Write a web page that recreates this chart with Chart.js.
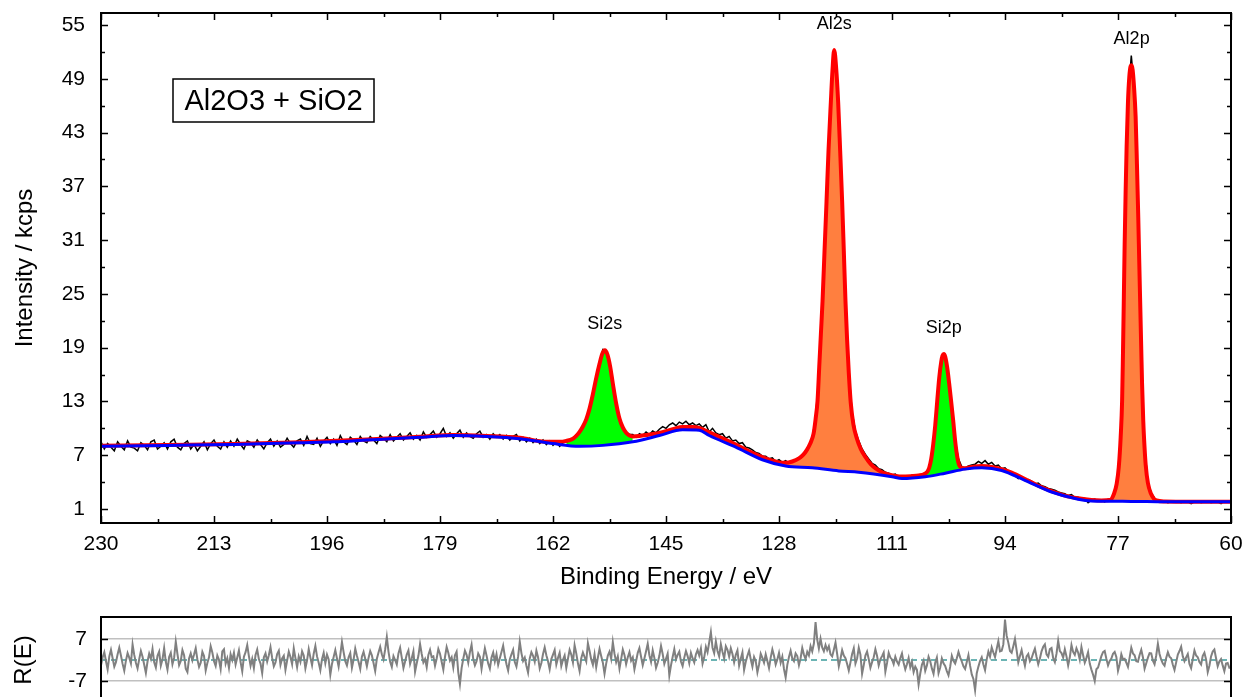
<!DOCTYPE html>
<html>
<head>
<meta charset="utf-8">
<script src="https://cdn.jsdelivr.net/npm/chart.js@4.4.1/dist/chart.umd.min.js"></script>
<style>
  html, body { margin: 0; padding: 0; overflow: hidden; background: #fff; }
  #main { position: absolute; left: 0; top: 0; }
  #resid { position: absolute; left: 0; top: 600px; }
</style>
</head>
<body>
<canvas id="main" width="1245" height="600"></canvas>
<canvas id="resid" width="1245" height="120"></canvas>
<script>
const FONT = "'Liberation Sans', Arial, sans-serif";

// axis ticks
const xTicks = [230, 213, 196, 179, 162, 145, 128, 111, 94, 77, 60];
const yTicks = [1, 7, 13, 19, 25, 31, 37, 43, 49, 55];
const residTicks = [-7, 7];

// measured spectrum (kcps), 0.5 eV steps from 230 eV down to 60 eV
const scanStart = 230;
const scanStep = 0.5;
const counts = [
  8.5, 7.7, 8.3, 7.9, 7.5, 8.5, 8.0, 7.6, 8.6, 7.9, 7.8, 7.5, 8.4, 8.1, 7.6, 8.5, 8.7, 7.7, 8.0, 8.4,
  7.7, 8.5, 8.8, 7.9, 7.6, 8.3, 8.6, 7.7, 8.2, 7.5, 8.0, 8.5, 7.6, 8.3, 8.7, 8.0, 7.7, 8.5, 7.9, 8.6,
  8.0, 8.8, 8.2, 7.7, 8.6, 8.4, 7.9, 8.7, 8.2, 7.7, 8.4, 8.8, 8.0, 8.6, 7.9, 8.2, 8.9, 8.3, 7.9, 8.6,
  8.8, 8.1, 9.1, 8.3, 8.2, 8.9, 8.0, 8.6, 9.0, 8.3, 8.8, 8.1, 9.2, 8.5, 8.2, 9.0, 8.7, 8.2, 9.1, 8.6,
  8.4, 9.1, 8.7, 8.3, 9.2, 8.9, 8.5, 9.3, 8.6, 9.0, 9.4, 8.7, 9.1, 9.5, 8.8, 9.2, 8.7, 9.6, 9.0, 9.3,
  9.7, 9.0, 9.4, 10.0, 9.1, 9.5, 8.9, 9.4, 9.8, 9.0, 9.5, 9.1, 8.9, 9.4, 9.7, 9.0, 9.3, 8.8, 9.4, 9.0,
  9.3, 8.8, 9.2, 8.7, 9.1, 9.3, 8.6, 9.0, 8.5, 8.9, 8.4, 8.8, 8.3, 8.7, 8.2, 8.6, 8.1, 8.5, 8.0, 8.4,
  8.5, 8.6, 8.8, 9.3, 9.5, 10.3, 11.1, 12.1, 13.9, 15.5, 17.3, 18.8, 18.7, 17.2, 15.1, 12.7, 11.2, 10.2, 9.6, 9.3,
  9.3, 9.0, 9.4, 9.2, 9.6, 9.3, 9.7, 9.5, 9.9, 10.2, 10.0, 10.4, 10.6, 10.3, 10.7, 10.5, 10.8, 10.4, 10.6, 10.3,
  10.5, 10.1, 10.4, 9.6, 10.0, 9.5, 9.3, 9.4, 8.9, 9.1, 8.6, 8.7, 8.3, 8.4, 7.9, 7.8, 7.6, 7.3, 7.2, 6.9,
  6.9, 6.6, 6.7, 6.3, 6.5, 6.2, 6.4, 6.1, 6.3, 6.4, 6.6, 6.8, 7.5, 8.1, 8.9, 11.2, 15.8, 23.5, 32.6, 42.3,
  49.8, 51.6, 44.9, 35.5, 24.4, 16.5, 11.8, 9.7, 8.6, 7.7, 7.1, 6.6, 6.1, 5.9, 5.5, 5.4, 5.1, 5.0, 4.8, 4.9,
  4.6, 4.7, 4.5, 4.7, 4.6, 4.8, 4.7, 4.9, 5.0, 5.4, 7.1, 10.4, 14.9, 17.9, 18.2, 15.7, 12.2, 8.7, 6.6, 5.7,
  5.6, 5.8, 5.9, 6.0, 6.3, 6.1, 6.4, 6.0, 6.2, 5.8, 5.9, 5.5, 5.6, 5.2, 4.9, 4.7, 4.4, 4.6, 4.2, 4.3,
  4.1, 3.8, 3.9, 3.6, 3.5, 3.3, 3.2, 3.1, 2.9, 2.8, 2.7, 2.5, 2.6, 2.3, 2.3, 2.1, 2.2, 1.7, 2.0, 2.1,
  1.9, 2.0, 1.8, 2.1, 2.1, 2.9, 4.5, 11.0, 30.8, 46.7, 51.6, 47.3, 35.2, 19.0, 8.0, 4.0, 2.8, 2.2, 1.9, 1.8,
  1.9, 1.7, 1.8, 1.9, 1.8, 1.7, 1.9, 1.8, 1.6, 1.8, 1.9, 1.7, 1.8, 1.9, 1.7, 1.8, 1.8, 1.6, 1.9, 1.8,
  1.8
];

// fit residual R(E), 0.25 eV steps from 230 eV down to 60 eV
const residStep = 0.25;
const residual = [
  -1.8, 0.9, 2.6, -0.4, -3.1, 1.2, 3.4, 0.6, -2.2, -0.7, 1.9, 4.1, 1.5, -1.3, -3.6, -0.2, 2.3, 0.8, -1.1, 5.2,
  1.7, -0.9, -2.8, 0.3, 3.0, 1.1, -1.6, -4.3, -0.5, 2.1, 0.4, 3.7, -0.8, -2.5, 1.4, 2.8, -1.9, 0.2, 4.0, -0.6,
  -3.2, 1.0, 2.4, -1.4, 0.7, 6.1, 2.0, -1.7, -0.3, 3.3, 1.6, -2.9, -4.0, 0.5, 2.2, -0.1, 1.8, 3.9, 0.2, -2.3,
  -0.9, 2.7, 1.3, -3.5, -1.0, 0.9, 4.6, 2.5, -0.4, -2.0, 1.5, 0.1, -3.0, 2.9, 3.6, -1.2, 0.6, -2.6, 1.9, 0.0,
  2.4, -1.5, 0.8, 3.2, -0.7, -3.8, 1.1, 2.6, 5.0, 1.3, -1.9, 0.4, -2.7, 1.7, 3.5, 0.3, -1.2, -4.4, 0.9, 2.2,
  -0.5, 1.6, 4.3, 0.7, -2.1, -0.8, 2.0, 3.1, -1.6, 0.5, 1.4, -3.3, -0.2, 2.8, 1.0, -1.4, 3.9, 0.6, -2.4, 1.2,
  -0.6, 2.9, 1.5, -2.8, -0.1, 3.6, 0.8, -1.7, 2.1, 4.7, 1.2, -0.9, -3.4, 0.3, 2.4, -1.1, 1.8, 0.2, -4.9, -1.3,
  1.0, 3.3, 0.5, -2.2, 1.7, 6.0, 2.6, -0.4, -1.8, 0.9, 2.3, -2.6, 0.1, 3.8, 1.4, -0.7, -3.0, 1.1, 2.7, 0.4,
  -2.1, 0.7, 3.0, 1.6, -1.0, -3.7, 0.4, 2.5, 4.4, 1.9, 0.2, 3.5, 7.7, 2.8, -0.6, -2.3, 1.3, 0.0, -1.5, 2.2,
  4.1, 0.8, -2.7, -0.5, 1.8, 3.2, -1.3, 0.6, 2.9, -3.9, -1.1, 1.4, 5.3, 2.0, -0.8, 0.3, -2.4, 1.7, 3.4, 0.9,
  1.2, -1.9, 0.5, 3.7, 2.1, -0.6, -3.2, 1.0, 4.3, 2.4, -0.2, 0.9, -2.5, 1.6, 2.8, -4.1, -8.0, -2.7, 0.4, 3.1,
  1.7, -0.9, 2.6, 5.1, 0.3, -1.8, -0.4, 2.2, 1.1, -3.0, 0.7, 3.9, 1.5, -1.2, -2.9, 0.8, 2.5, -0.5, 1.9, -1.6,
  0.6, 2.7, 4.8, 1.3, -1.4, -3.5, 0.2, 1.9, 3.4, -0.7, -2.2, 1.1, 6.1, 2.3, -0.3, 0.8, -1.9, -4.2, 0.5, 2.6,
  1.4, -0.6, 3.1, 0.9, -2.8, -1.0, 2.0, 4.2, 1.6, -0.4, -3.1, 0.3, 1.8, 3.3, -1.5, 0.7, 2.4, -2.0, 0.1, 1.5,
  -2.6, 0.4, 3.4, 1.8, -0.8, 4.9, 2.2, -1.1, -3.7, 0.6, 2.5, 1.0, -0.5, 5.6, 3.0, 0.2, -1.6, 1.9, -2.4, 0.8,
  3.7, 1.3, -0.9, -4.6, -1.2, 1.5, 2.8, 0.4, 6.0, 2.1, -0.7, 1.2, -2.9, 0.3, 3.5, 1.7, -1.4, 0.9, 2.6, -0.2,
  0.9, -3.1, -0.4, 2.4, 4.0, 1.1, -1.7, 0.5, 2.9, 5.4, 1.6, -0.6, 3.2, 0.7, -2.6, -0.9, 1.4, 4.7, 2.0, -1.3,
  0.4, 2.1, -5.2, -1.8, 1.0, 3.6, 0.2, 1.7, 2.8, -0.5, -2.0, 0.8, 3.0, 1.3, -1.1, 2.4, 0.6, -0.8, 1.9, 3.3,
  1.5, 3.8, -1.2, 0.9, 4.4, 2.6, 5.9, 9.3, 4.1, 2.3, 6.2, 3.0, 1.2, 5.3, 2.7, 0.5, 4.6, 3.4, 1.1, 3.9,
  2.0, -0.8, 1.7, 3.2, -1.9, 0.4, 2.5, -3.3, -0.6, 1.4, 3.1, 0.2, -2.2, 1.0, -0.4, -4.1, -1.5, 2.1, 0.7, -0.9,
  1.9, -0.3, -2.7, 0.8, 3.5, 1.4, -1.5, 0.2, 2.4, -0.9, 1.1, -3.0, -5.8, -1.6, 1.0, 3.1, 0.5, -0.4, 2.2, 1.3,
  -1.7, 0.6, 4.0, 1.8, 0.3, 2.7, 1.5, 4.6, 2.9, 5.5, 12.6, 6.8, 3.8, 7.1, 4.2, 2.9, 5.0, 3.3, 4.6, 1.9,
  1.2, 3.4, 5.8, 2.0, -2.1, 0.4, 3.3, 1.5, 0.6, -1.3, -3.5, -0.8, 2.0, 3.9, -1.2, 0.5, 4.1, 1.8, -4.6, -1.7,
  1.5, 2.8, 0.3, -2.6, -0.7, 0.9, 3.6, 1.4, -1.8, 0.2, 1.3, 2.5, -3.9, -1.0, 2.4, 0.8, 0.2, -1.4, 1.1, -0.5,
  -1.5, 0.6, 2.2, -0.9, -3.1, -1.4, 0.7, -2.4, -0.6, -4.0, -2.2, -3.3, -8.2, -4.5, -1.6, -0.2, -3.6, -1.8, 1.1, -0.4,
  -2.8, -4.6, -0.9, 0.8, -4.4, -2.5, 0.5, -1.1, -2.0, -3.7, -5.1, -2.3, 1.4, -0.3, -1.2, 0.6, 2.7, 0.9, -0.5, -2.1,
  -3.0, -0.7, 1.6, -1.9, -4.8, -6.3, -10.1, -4.4, -2.2, -0.3, 0.9, -1.5, -3.4, 0.2, 2.8, 1.1, 4.2, 2.5, 1.0, 3.7,
  6.3, 2.9, 3.1, 5.2, 13.5, 8.1, 5.8, 3.0, 2.4, 4.6, 7.0, 3.2, -0.8, 1.3, 3.3, 0.5, -1.9, 1.2, 2.0, -0.4,
  0.6, 2.3, 3.8, 1.0, -1.4, 0.5, 2.9, 4.4, 5.2, 1.9, 1.1, 3.6, 4.0, 0.6, -0.7, 2.1, 6.4, 3.0, 2.3, 0.8,
  3.6, 1.2, -1.8, 0.9, 5.0, 2.7, 1.7, 3.9, 2.5, 0.1, 4.3, 1.6, -0.9, 0.7, 2.6, -1.2, -3.2, -4.9, -7.0, -3.1,
  -2.5, -0.6, 1.3, 2.6, 3.0, 0.4, -1.8, -0.3, 0.5, 2.1, 2.7, 1.0, -3.6, -1.4, 1.9, 0.2, 0.4, -0.9, -2.3, 0.8,
  4.1, 2.2, 1.6, -0.4, -0.6, 1.7, 3.4, 0.9, -2.9, -1.1, 0.8, 2.3, 2.2, -0.2, -1.4, 1.5, 5.4, 2.0, 0.1, -1.2,
  -1.9, 0.7, 2.6, 1.1, 0.6, -1.6, -3.3, -0.8, 1.8, 3.0, 4.4, 1.2, -0.4, 0.9, 2.0, -1.3, -2.7, 0.3, 3.2, 1.5,
  0.9, -0.7, -1.5, 1.4, 2.4, 0.2, -4.0, -1.9, 1.2, 2.8, 3.5, 0.6, -2.1, -0.5, 0.3, -1.8, -3.7, -1.2, -1.0, -2.6,
  -2.4
];

// background under the peaks
const bgEnergy = [230, 220, 210, 200, 195, 190, 185, 182, 177, 172, 167, 162, 158, 154.5, 150, 146, 142.5, 140, 138.5,
  134.5, 130.5, 127, 123, 119, 116, 111, 109.5, 106, 103, 100, 97.5, 94.5, 91, 87, 83, 81, 75, 70, 60];
const bgIntensity = [8.0, 8.1, 8.2, 8.4, 8.5, 8.7, 8.9, 9.0, 9.2, 9.1, 8.85, 8.3, 8.0, 8.1, 8.5, 9.2, 9.85, 9.8, 9.2,
  7.9, 6.5, 5.8, 5.6, 5.25, 5.1, 4.6, 4.4, 4.6, 5.0, 5.45, 5.6, 5.3, 4.2, 2.9, 2.1, 1.9, 1.85, 1.8, 1.8];

// fit envelope
const fitEnergy = [230, 220, 210, 200, 190, 182, 177, 172, 167, 163,
  161, 160, 159, 158.5, 158, 157.5, 157, 156.5, 156, 155.5, 155, 154.6, 154.2, 153.8, 153.4, 153, 152.5, 152, 151.5, 151, 150.5, 150,
  149, 148, 146, 144, 142.5, 141, 140, 138.5, 136.5, 134.5, 132.5, 130.5, 129,
  128, 127, 126, 125, 124.3, 123.8, 123.3, 122.8, 122.5, 122.2, 121.95, 121.7, 121.45, 121.15, 120.85, 120.55, 120.2, 119.95,
  119.7, 119.4, 119.1, 118.8, 118.5, 118.25, 118.0, 117.75, 117.5, 117.2, 116.8, 116.3, 115.7, 115, 114.2, 113.4, 112.5, 111.5, 110.5, 109.5,
  108, 107, 106.2, 105.7, 105.4, 105.1, 104.8, 104.5, 104.2, 103.9, 103.6, 103.4, 103.2, 103.0, 102.7, 102.4, 102.1, 101.8, 101.5, 101.2, 100.9, 100.5,
  100, 99, 97.5, 96, 94.5, 93, 91, 89, 87, 85, 83, 81, 79.5,
  78.2, 77.6, 77.2, 76.88, 76.6, 76.38, 76.25, 76.12, 76.0, 75.85, 75.7, 75.5, 75.3, 75.1, 74.95, 74.8, 74.6, 74.35, 74.15, 73.95,
  73.8, 73.63, 73.5, 73.38, 73.2, 73.0, 72.83, 72.5, 72.03, 71.6, 71.2, 70, 65, 60];
const fitIntensity = [8.05, 8.15, 8.25, 8.45, 8.75, 9.05, 9.25, 9.15, 8.95, 8.5,
  8.5, 8.6, 8.85, 9.15, 9.6, 10.2, 11.0, 12.2, 13.8, 15.6, 17.2, 18.3, 18.7, 18.2, 16.9, 15.0, 12.8, 11.1, 10.1, 9.5, 9.2, 9.1,
  9.15, 9.25, 9.5, 9.9, 10.15, 10.15, 10.05, 9.55, 8.9, 8.2, 7.45, 6.8, 6.4,
  6.2, 6.15, 6.3, 6.65, 7.1, 7.6, 8.3, 9.4, 11.0, 13.1, 16.8, 20.5, 24.2, 29.8, 35.3, 41.0, 46.4, 50.0,
  52.2, 50.2, 46.4, 41.0, 35.3, 29.8, 24.2, 19.8, 16.2, 12.8, 10.4, 8.9, 7.7, 6.8, 6.0, 5.5, 5.1, 4.85, 4.7, 4.62,
  4.68, 4.75, 4.88, 5.15, 5.6, 6.6, 8.2, 10.3, 13.0, 15.6, 17.4, 18.1, 18.3, 18.0, 16.8, 15.0, 13.0, 10.9, 8.6, 6.9, 5.9, 5.6,
  5.55, 5.7, 5.8, 5.7, 5.45, 5.05, 4.35, 3.6, 3.0, 2.5, 2.2, 2.0, 1.95,
  2.0, 2.7, 3.8, 5.7, 9.0, 13.1, 18.5, 24.6, 30.5, 36.5, 41.5, 46.4, 49.2, 50.4, 50.5, 50.0, 48.2, 44.8, 39.5, 33.5,
  28.5, 23.0, 18.8, 15.0, 10.8, 7.8, 5.9, 3.9, 2.7, 2.15, 1.95, 1.85, 1.82, 1.8];

// fitted components: energy window of each peak
const peakNames = ['Si2s', 'Al2s', 'Si2p', 'Al2p'];
const peakFrom = [160, 128, 106.2, 78.2];
const peakTo = [150, 109.5, 100.5, 71.2];

const toPts = (xs, ys) => xs.map((x, i) => ({x: x, y: ys[i]}));
const scanEnergy = counts.map((_, i) => scanStart - i * scanStep);
const residEnergy = residual.map((_, i) => scanStart - i * residStep);

const componentColor = name => name.startsWith('Si') ? '#00ff00' : '#ff7f3f';

const componentSets = peakNames.map((name, k) => {
  const pts = toPts(fitEnergy, fitIntensity).filter(p => p.x <= peakFrom[k] && p.x >= peakTo[k]);
  return {
    label: name,
    data: pts,
    borderWidth: 0,
    backgroundColor: componentColor(name),
    fill: 0,
    pointRadius: 0,
    cubicInterpolationMode: 'monotone',
    order: 3,
  };
});

function midpoints(ticks) {
  let out = [];
  for (let i = 0; i < ticks.length - 1; i++) out.push((ticks[i] + ticks[i + 1]) / 2);
  return out;
}

const mainDecor = {
  id: 'mainDecor',
  afterDraw(chart) {
    const { ctx, chartArea: a, scales } = chart;
    ctx.save();
    ctx.strokeStyle = '#000';
    ctx.lineWidth = 1.5;
    ctx.beginPath();
    xTicks.concat(midpoints(xTicks)).forEach((v, i) => {
      const len = i < xTicks.length ? 7 : 4;
      const px = Math.round(scales.x.getPixelForValue(v)) + 0.5;
      ctx.moveTo(px, a.bottom); ctx.lineTo(px, a.bottom - len);
      ctx.moveTo(px, a.top); ctx.lineTo(px, a.top + len);
    });
    yTicks.concat(midpoints(yTicks)).forEach((v, i) => {
      const len = i < yTicks.length ? 7 : 4;
      const py = Math.round(scales.y.getPixelForValue(v)) + 0.5;
      ctx.moveTo(a.left, py); ctx.lineTo(a.left + len, py);
      ctx.moveTo(a.right, py); ctx.lineTo(a.right - len, py);
    });
    ctx.stroke();
    ctx.lineWidth = 2;
    ctx.strokeRect(a.left, a.top, a.right - a.left, a.bottom - a.top);

    // peak names above each fitted maximum
    ctx.font = '18px ' + FONT;
    ctx.fillStyle = '#000';
    ctx.textAlign = 'center';
    ctx.textBaseline = 'middle';
    peakNames.forEach((name, k) => {
      let best = null;
      fitEnergy.forEach((e, i) => {
        if (e <= peakFrom[k] && e >= peakTo[k] && (!best || fitIntensity[i] > best.y)) best = {x: e, y: fitIntensity[i]};
      });
      ctx.fillText(name, scales.x.getPixelForValue(best.x), scales.y.getPixelForValue(best.y) - 26);
    });

    // sample box
    const bx = a.left + 72, by = a.top + 66, bw = 201, bh = 43;
    ctx.fillStyle = '#fff';
    ctx.fillRect(bx, by, bw, bh);
    ctx.lineWidth = 1.5;
    ctx.strokeRect(bx, by, bw, bh);
    ctx.fillStyle = '#000';
    ctx.font = '29px ' + FONT;
    ctx.fillText('Al2O3 + SiO2', bx + bw / 2, by + bh / 2 + 1);
    ctx.restore();
  }
};

const residDecor = {
  id: 'residDecor',
  afterDraw(chart) {
    const { ctx, chartArea: a, scales } = chart;
    ctx.save();
    ctx.strokeStyle = '#000';
    ctx.lineWidth = 1.5;
    ctx.beginPath();
    residTicks.forEach(v => {
      const py = Math.round(scales.y.getPixelForValue(v)) + 0.5;
      ctx.moveTo(a.left, py); ctx.lineTo(a.left + 7, py);
      ctx.moveTo(a.right, py); ctx.lineTo(a.right - 7, py);
    });
    ctx.stroke();
    ctx.lineWidth = 2;
    ctx.strokeRect(a.left, a.top, a.right - a.left, a.bottom - a.top);
    ctx.restore();
  }
};

Chart.defaults.font.family = FONT;
Chart.defaults.color = '#000';

new Chart(document.getElementById('main'), {
  type: 'line',
  data: {
    datasets: [
      {
        label: 'Background',
        data: toPts(bgEnergy, bgIntensity),
        borderColor: '#0000ff',
        borderWidth: 3,
        pointRadius: 0,
        fill: false,
        cubicInterpolationMode: 'monotone',
        order: 0,
      },
      {
        label: 'Envelope',
        data: toPts(fitEnergy, fitIntensity),
        borderColor: '#ff0000',
        borderWidth: 4,
        pointRadius: 0,
        fill: false,
        cubicInterpolationMode: 'monotone',
        order: 1,
      },
      {
        label: 'Data',
        data: toPts(scanEnergy, counts),
        borderColor: '#000000',
        borderWidth: 1.5,
        pointRadius: 0,
        fill: false,
        tension: 0,
        order: 2,
      },
      ...componentSets,
    ],
  },
  options: {
    responsive: false,
    animation: false,
    layout: { padding: { top: 13, right: 14, left: 0, bottom: 0 } },
    plugins: { legend: { display: false }, tooltip: { enabled: false } },
    scales: {
      x: {
        type: 'linear',
        min: 60,
        max: 230,
        reverse: true,
        afterBuildTicks: s => { s.ticks = xTicks.map(v => ({ value: v })); },
        afterFit: s => { s.height = 77; s.paddingLeft = 0; s.paddingRight = 0; },
        grid: { display: false, drawTicks: false },
        border: { display: false },
        ticks: { font: { size: 21 }, color: '#000', padding: 9, maxRotation: 0, autoSkip: false },
        title: { display: true, text: 'Binding Energy / eV', font: { size: 24 }, color: '#000', padding: { top: 0, bottom: 8 } },
      },
      y: {
        type: 'linear',
        min: -0.56,
        max: 56.34,
        afterBuildTicks: s => { s.ticks = yTicks.map(v => ({ value: v })); },
        afterFit: s => { s.width = 101; s.paddingTop = 0; s.paddingBottom = 0; },
        grid: { display: false, drawTicks: false },
        border: { display: false },
        ticks: { font: { size: 21 }, color: '#000', padding: 16 },
        title: { display: true, text: 'Intensity / kcps', font: { size: 24 }, color: '#000', padding: { top: 11, bottom: 0 } },
      },
    },
  },
  plugins: [mainDecor],
});

new Chart(document.getElementById('resid'), {
  type: 'line',
  data: {
    datasets: [
      {
        label: 'R(E)',
        data: toPts(residEnergy, residual),
        borderColor: '#808080',
        borderWidth: 2,
        pointRadius: 0,
        fill: false,
        order: 0,
      },
      {
        label: 'zero',
        data: toPts([230, 60], [0, 0]),
        borderColor: '#3d9c9c',
        borderWidth: 1.5,
        borderDash: [6, 4],
        pointRadius: 0,
        fill: false,
        order: 1,
      },
    ],
  },
  options: {
    responsive: false,
    animation: false,
    layout: { padding: { top: 17, right: 14, left: 0, bottom: 17 } },
    plugins: { legend: { display: false }, tooltip: { enabled: false } },
    scales: {
      x: { type: 'linear', min: 60, max: 230, reverse: true, display: false },
      y: {
        type: 'linear',
        min: -14.33,
        max: 14.33,
        afterBuildTicks: s => { s.ticks = residTicks.map(v => ({ value: v })); },
        afterFit: s => { s.width = 101; s.paddingTop = 0; s.paddingBottom = 0; },
        grid: { color: '#c0c0c0', lineWidth: 1.5, drawTicks: false },
        border: { display: false },
        ticks: { font: { size: 21 }, color: '#000', padding: 14 },
        title: { display: true, text: 'R(E)', font: { size: 24 }, color: '#000', padding: { top: 10, bottom: 0 } },
      },
    },
  },
  plugins: [residDecor],
});
</script>
</body>
</html>
